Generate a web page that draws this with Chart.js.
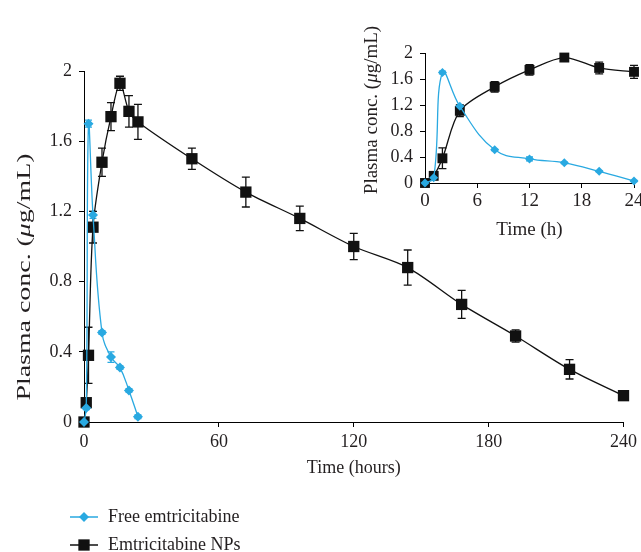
<!DOCTYPE html>
<html>
<head>
<meta charset="utf-8">
<script src="https://cdn.jsdelivr.net/npm/chart.js@4.4.0/dist/chart.umd.min.js"></script>
<style>
  html, body { margin: 0; padding: 0; background: #fff; overflow: hidden; }
  #main { position: absolute; left: 0; top: 0; }
  #inset { position: absolute; left: 355px; top: 10px; }
</style>
</head>
<body>
<canvas id="main" width="641" height="552"></canvas>
<canvas id="inset" width="300" height="232"></canvas>
<script>
// values
const npTime = [0, 1, 2, 4, 8, 12, 16, 20, 24, 48, 72, 96, 120, 144, 168, 192, 216, 240];
const npConc = [0, 0.11, 0.38, 1.11, 1.48, 1.74, 1.93, 1.77, 1.71, 1.50, 1.31, 1.16, 1.00, 0.88, 0.67, 0.49, 0.30, 0.15];
const npErr = [0, 0.02, 0.16, 0.09, 0.08, 0.08, 0.04, 0.09, 0.10, 0.06, 0.085, 0.07, 0.075, 0.10, 0.08, 0.035, 0.055, 0.01];
const freeTime = [0, 1, 2, 4, 8, 12, 16, 20, 24];
const freeConc = [0, 0.08, 1.70, 1.18, 0.51, 0.37, 0.31, 0.18, 0.03];
const freeErr = [0, 0.01, 0.02, 0.02, 0.01, 0.03, 0.01, 0.01, 0.01];
const mainXTicks = [0, 60, 120, 180, 240];
const insetXTicks = [0, 6, 12, 18, 24];
const yTicks = [0, 0.4, 0.8, 1.2, 1.6, 2];
const seriesNames = ['Free emtricitabine', 'Emtricitabine NPs'];

const BLUE = '#29a9e1';
const BLACK = '#111';
const TEXT = '#231f20';
const SERIF = '"Liberation Serif", "Times New Roman", serif';

const pts = (xs, ys, maxX) => xs.map((x, i) => ({ x, y: ys[i] })).filter(p => p.x <= maxX);

// vertical error bars, drawn under the markers
const errorBars = {
  id: 'errorBars',
  beforeDatasetsDraw(chart) {
    const ctx = chart.ctx;
    chart.data.datasets.forEach((ds, i) => {
      if (!ds.errors) return;
      const meta = chart.getDatasetMeta(i);
      const ys = meta.yScale;
      ctx.save();
      ctx.strokeStyle = ds.borderColor;
      ctx.lineWidth = 1.3;
      meta.data.forEach((el, j) => {
        const e = ds.errors[j];
        if (!e) return;
        const v = ds.data[j].y;
        const t = ys.getPixelForValue(v + e), b = ys.getPixelForValue(v - e);
        const x = el.x, w = ds.capWidth;
        ctx.beginPath();
        ctx.moveTo(x, t); ctx.lineTo(x, b);
        ctx.moveTo(x - w, t); ctx.lineTo(x + w, t);
        ctx.moveTo(x - w, b); ctx.lineTo(x + w, b);
        ctx.stroke();
      });
      ctx.restore();
    });
  }
};

function yTitle(cx, cy, size, stretch) {
  return {
    id: 'yTitle',
    afterDraw(chart) {
      const ctx = chart.ctx;
      const parts = [['Plasma conc. (', ''], ['\u03bc', 'italic '], ['g/mL)', '']];
      ctx.save();
      ctx.translate(cx, cy);
      ctx.rotate(-Math.PI / 2);
      ctx.scale(stretch, 1);
      let total = 0;
      parts.forEach(p => { ctx.font = p[1] + size + 'px ' + SERIF; total += ctx.measureText(p[0]).width; });
      let x = -total / 2;
      ctx.fillStyle = TEXT;
      ctx.textBaseline = 'middle';
      parts.forEach(p => {
        ctx.font = p[1] + size + 'px ' + SERIF;
        ctx.fillText(p[0], x, 0);
        x += ctx.measureText(p[0]).width;
      });
      ctx.restore();
    }
  };
}

const legendBelow = {
  id: 'legendBelow',
  afterDraw(chart) {
    const ctx = chart.ctx;
    chart.data.datasets.forEach((ds, i) => {
      const y = 517 + i * 28;
      ctx.save();
      ctx.strokeStyle = ds.borderColor;
      ctx.lineWidth = 1.5;
      ctx.beginPath(); ctx.moveTo(70, y); ctx.lineTo(98, y); ctx.stroke();
      ctx.fillStyle = ds.borderColor;
      Chart.helpers.drawPoint(ctx, { pointStyle: ds.pointStyle, radius: ds.pointRadius, rotation: 0, borderWidth: 0 }, 84, y);
      ctx.fillStyle = TEXT;
      ctx.font = '18px ' + SERIF;
      ctx.textBaseline = 'middle';
      ctx.fillText(seriesNames[i], 108, y);
      ctx.restore();
    });
  }
};

function makeDatasets(maxX, sq, dia) {
  return [
    {
      label: seriesNames[0], data: pts(freeTime, freeConc, maxX), errors: freeErr, capWidth: 3.5,
      borderColor: BLUE, backgroundColor: BLUE, borderWidth: 1.3, tension: 0.4,
      pointStyle: 'rectRot', pointRadius: dia, pointBorderWidth: 0, clip: false
    },
    {
      label: seriesNames[1], data: pts(npTime, npConc, maxX), errors: npErr, capWidth: 4,
      borderColor: BLACK, backgroundColor: BLACK, borderWidth: 1.3, tension: 0.3,
      pointStyle: 'rect', pointRadius: sq, pointBorderWidth: 0, clip: false
    }
  ];
}

function axisGrid() {
  return { drawOnChartArea: false, drawTicks: true, tickLength: 5, color: '#000', lineWidth: 1 };
}

// main chart, 0-240 h
new Chart(document.getElementById('main'), {
  type: 'line',
  data: { datasets: makeDatasets(240, 8, 5) },
  options: {
    responsive: false, animation: false,
    layout: { padding: { top: 71, right: 17, left: 0, bottom: 0 } },
    plugins: { legend: { display: false }, tooltip: { enabled: false } },
    scales: {
      x: {
        type: 'linear', min: 0, max: 240,
        afterBuildTicks: s => { s.ticks = mainXTicks.map(v => ({ value: v })); },
        afterFit: s => { s.height = 130; },
        grid: axisGrid(), border: { color: '#000', width: 1 },
        ticks: { color: TEXT, font: { family: SERIF, size: 18 }, padding: 4, maxRotation: 0 },
        title: { display: true, text: 'Time (hours)', color: TEXT, font: { family: SERIF, size: 18 }, padding: { top: 0, bottom: 73 } }
      },
      y: {
        type: 'linear', min: 0, max: 2,
        afterBuildTicks: s => { s.ticks = yTicks.map(v => ({ value: v })); },
        afterFit: s => { s.width = 84; },
        grid: axisGrid(), border: { color: '#000', width: 1 },
        ticks: { color: TEXT, font: { family: SERIF, size: 18 }, padding: 7, callback: v => String(+v.toFixed(1)) }
      }
    }
  },
  plugins: [errorBars, yTitle(25, 277, 18, 1.55), legendBelow]
});

// inset, first 24 h
new Chart(document.getElementById('inset'), {
  type: 'line',
  data: { datasets: makeDatasets(24, 7, 4.5) },
  options: {
    responsive: false, animation: false,
    layout: { padding: { top: 43, right: 21, left: 0, bottom: 0 } },
    plugins: { legend: { display: false }, tooltip: { enabled: false } },
    scales: {
      x: {
        type: 'linear', min: 0, max: 24,
        afterBuildTicks: s => { s.ticks = insetXTicks.map(v => ({ value: v })); },
        afterFit: s => { s.height = 59; },
        grid: axisGrid(), border: { color: '#000', width: 1 },
        ticks: { color: TEXT, font: { family: SERIF, size: 19 }, padding: 2, maxRotation: 0 },
        title: { display: true, text: 'Time (h)', color: TEXT, font: { family: SERIF, size: 19 }, padding: { top: 0, bottom: 1 } }
      },
      y: {
        type: 'linear', min: 0, max: 2,
        afterBuildTicks: s => { s.ticks = yTicks.map(v => ({ value: v })); },
        afterFit: s => { s.width = 70; },
        grid: axisGrid(), border: { color: '#000', width: 1 },
        ticks: { color: TEXT, font: { family: SERIF, size: 18 }, padding: 7, callback: v => String(+v.toFixed(1)) }
      }
    }
  },
  plugins: [errorBars, yTitle(17, 100, 19, 1)]
});
</script>
</body>
</html>
